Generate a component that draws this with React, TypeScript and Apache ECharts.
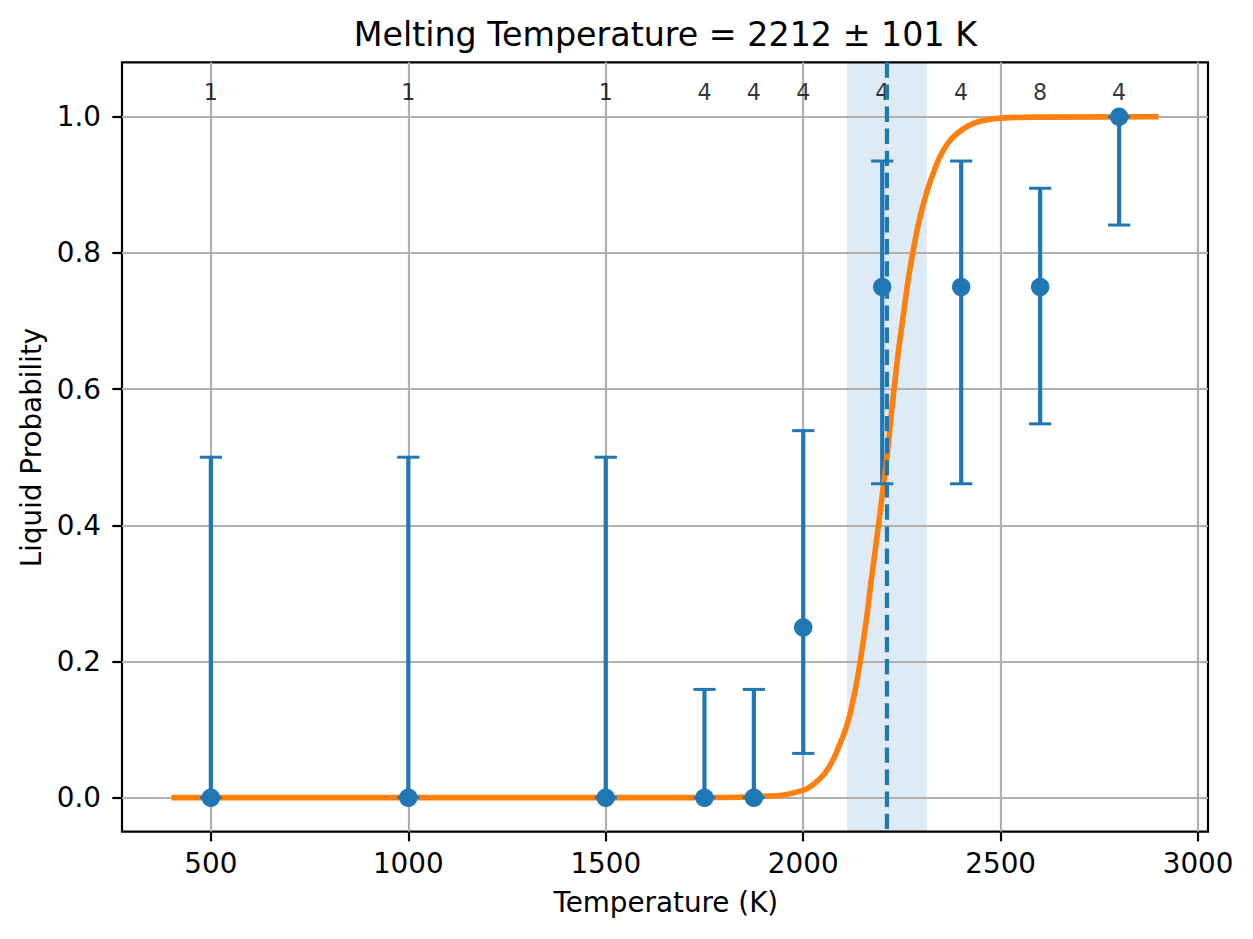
import React, { useEffect, useRef } from "react";
import * as echarts from "echarts";

// ---- data ----
const temperatures = [500, 1000, 1500, 1750, 1875, 2000, 2200, 2400, 2600, 2800];
const liquidProb = [0, 0, 0, 0, 0, 0.25, 0.75, 0.75, 0.75, 1.0];
const errLow = [0, 0, 0, 0, 0, 0.065, 0.461, 0.461, 0.549, 0.841];
const errHigh = [0.5, 0.5, 0.5, 0.159, 0.159, 0.539, 0.935, 0.935, 0.895, 1.0];
const sampleCounts = [1, 1, 1, 4, 4, 4, 4, 4, 8, 4];
const countLabelY = 1.036;

const fitT = [400, 1600, 1800, 1900, 1950, 2000, 2020, 2035, 2055, 2075, 2090, 2110, 2122, 2135, 2147, 2160, 2172, 2185, 2197, 2210, 2220, 2230, 2242, 2255, 2267, 2280, 2292, 2305, 2317, 2330, 2345, 2365, 2385, 2405, 2430, 2460, 2500, 2600, 2900];
const fitP = [0, 0, 0.0003, 0.002, 0.004, 0.011, 0.017, 0.024, 0.036, 0.055, 0.075, 0.105, 0.132, 0.168, 0.21, 0.262, 0.318, 0.375, 0.43, 0.49, 0.545, 0.6, 0.66, 0.715, 0.765, 0.808, 0.843, 0.873, 0.897, 0.918, 0.94, 0.96, 0.973, 0.982, 0.99, 0.995, 0.998, 0.9995, 1.0];

const meltingT = 2212;
const meltingErr = 101;

const xTicks = [500, 1000, 1500, 2000, 2500, 3000];
const yTicks = [0, 0.2, 0.4, 0.6, 0.8, 1.0];
const xMin = 275;
const xMax = 3025;
const yMin = -0.05;
const yMax = 1.08;

const C0 = "#1f77b4";
const C1 = "#ff7f0e";
const FONT = "DejaVu Sans";

export default function App() {
  const ref = useRef<HTMLDivElement>(null);

  useEffect(() => {
    document.body.style.margin = "0";
    if (!ref.current) return;
    const chart = echarts.init(ref.current, null, { renderer: "svg" });

    const errData = temperatures.map((t, i) => [t, errLow[i], errHigh[i]]);
    const pointData = temperatures.map((t, i) => [t, liquidProb[i]]);
    const countData = temperatures.map((t, i) => [t, countLabelY, sampleCounts[i]]);
    const fitData = fitT.map((t, i) => [t, fitP[i]]);

    const option: any = {
      animation: false,
      backgroundColor: "#ffffff",
      grid: {
        left: 122,
        right: 45,
        top: 62.3,
        bottom: 107.3,
        show: true,
        borderColor: "#000000",
        borderWidth: 2.2,
        backgroundColor: "transparent",
      },
      xAxis: {
        type: "value",
        min: xMin,
        max: xMax,
        axisLine: { show: false, onZero: false },
        axisTick: {
          show: true,
          length: 9.7,
          customValues: xTicks,
          lineStyle: { color: "#000", width: 2.2 },
        },
        axisLabel: {
          customValues: xTicks,
          margin: 32,
          verticalAlign: "middle",
          fontSize: 27.8,
          color: "#000",
          fontFamily: FONT,
          formatter: (v: number) => String(v),
        },
        splitLine: { show: true, lineStyle: { color: "#b0b0b0", width: 2.2 } },
      },
      yAxis: {
        type: "value",
        min: yMin,
        max: yMax,
        axisLine: { show: false, onZero: false },
        axisTick: {
          show: true,
          length: 9.7,
          customValues: yTicks,
          lineStyle: { color: "#000", width: 2.2 },
        },
        axisLabel: {
          customValues: yTicks,
          margin: 21,
          fontSize: 27.8,
          color: "#000",
          fontFamily: FONT,
          formatter: (v: number) => v.toFixed(1),
        },
        splitLine: { show: true, lineStyle: { color: "#b0b0b0", width: 2.2 } },
      },
      graphic: [
        {
          type: "text",
          x: 665.4,
          y: 34,
          style: {
            text: `Melting Temperature = ${meltingT} ± ${meltingErr} K`,
            fontSize: 33.3,
            fontFamily: FONT,
            fill: "#000",
            textAlign: "center",
            textVerticalAlign: "middle",
          },
        },
        {
          type: "text",
          x: 665.8,
          y: 902.5,
          style: {
            text: "Temperature (K)",
            fontSize: 27.8,
            fontFamily: FONT,
            fill: "#000",
            textAlign: "center",
            textVerticalAlign: "middle",
          },
        },
        {
          type: "text",
          x: 31.2,
          y: 447.5,
          rotation: Math.PI / 2,
          style: {
            text: "Liquid Probability",
            fontSize: 27.8,
            fontFamily: FONT,
            fill: "#000",
            textAlign: "center",
            textVerticalAlign: "middle",
          },
        },
      ],
      series: [
        {
          name: "band",
          type: "custom",
          z: -1,
          silent: true,
          data: [[meltingT - meltingErr, meltingT + meltingErr]],
          encode: { x: [0, 1] },
          renderItem: (params: any, api: any) => {
            const cs = params.coordSys;
            const a = api.coord([api.value(0), 0])[0];
            const b = api.coord([api.value(1), 0])[0];
            return {
              type: "rect",
              shape: { x: a, y: cs.y, width: b - a, height: cs.height },
              style: { fill: "rgba(31,119,180,0.15)" },
            };
          },
        },
        {
          name: "stems",
          type: "custom",
          z: 1,
          data: errData,
          encode: { x: 0, y: [1, 2] },
          renderItem: (params: any, api: any) => {
            const x = api.value(0);
            const lo = api.coord([x, api.value(1)]);
            const hi = api.coord([x, api.value(2)]);
            return {
              type: "line",
              shape: { x1: lo[0], y1: lo[1], x2: hi[0], y2: hi[1] },
              style: { stroke: C0, lineWidth: 4.2 },
            };
          },
        },
        {
          name: "fit",
          type: "line",
          z: 2,
          data: fitData,
          showSymbol: false,
          smooth: 0.5,
          lineStyle: { color: C1, width: 5.6 },
        },
        {
          name: "caps",
          type: "custom",
          z: 3,
          data: errData,
          encode: { x: 0, y: [1, 2] },
          renderItem: (params: any, api: any) => {
            const x = api.value(0);
            const lo = api.coord([x, api.value(1)]);
            const hi = api.coord([x, api.value(2)]);
            const hw = 11.1;
            const st = { stroke: C0, lineWidth: 3 };
            return {
              type: "group",
              children: [
                { type: "line", shape: { x1: lo[0] - hw, y1: lo[1], x2: lo[0] + hw, y2: lo[1] }, style: st },
                { type: "line", shape: { x1: hi[0] - hw, y1: hi[1], x2: hi[0] + hw, y2: hi[1] }, style: st },
              ],
            };
          },
        },
        {
          name: "points",
          type: "scatter",
          z: 4,
          data: pointData,
          symbol: "circle",
          symbolSize: 18.5,
          itemStyle: { color: C0, opacity: 1 },
        },
        {
          name: "counts",
          type: "scatter",
          z: 4,
          data: countData,
          symbolSize: 0,
          itemStyle: { color: "transparent" },
          label: {
            show: true,
            position: "inside",
            formatter: (p: any) => String(p.value[2]),
            fontSize: 22.2,
            fontFamily: FONT,
            color: "#000",
          },
        },
        {
          name: "melting",
          type: "custom",
          z: 5,
          silent: true,
          data: [[meltingT]],
          encode: { x: 0 },
          renderItem: (params: any, api: any) => {
            const cs = params.coordSys;
            const x = api.coord([api.value(0), 0])[0];
            return {
              type: "line",
              shape: { x1: x, y1: cs.y, x2: x, y2: cs.y + cs.height },
              style: { stroke: C0, lineWidth: 4.2, lineDash: [15.4, 6.7] },
            };
          },
        },
      ],
    };

    chart.setOption(option);
    return () => {
      chart.dispose();
    };
  }, []);

  return <div ref={ref} style={{ width: 1253, height: 939 }} />;
}
